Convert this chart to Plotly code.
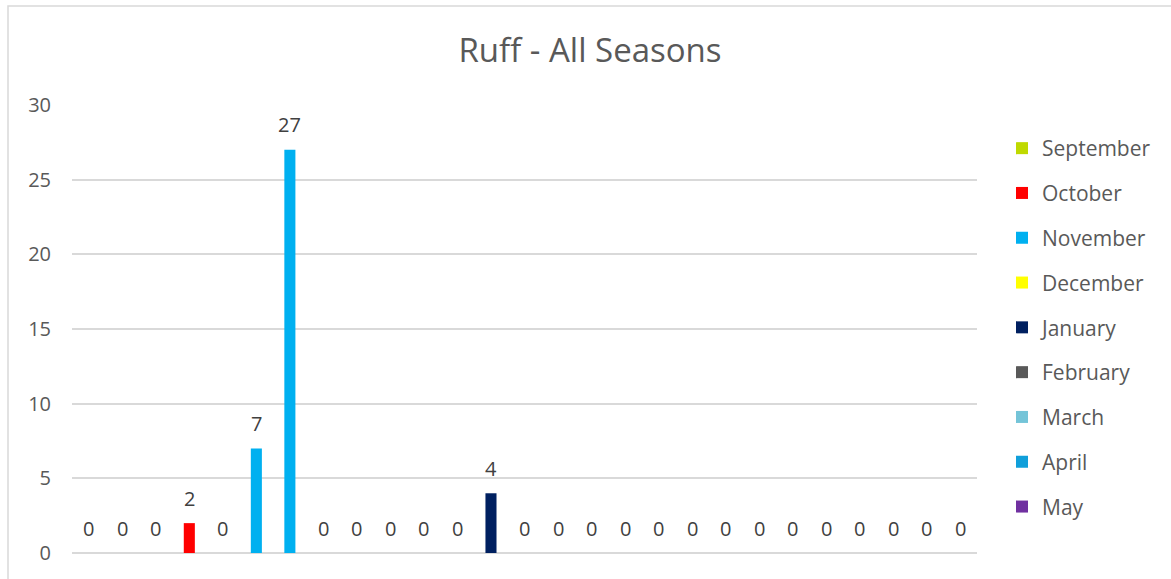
import plotly.graph_objects as go

# Months shown in the legend, with their bar colours
months = ["September", "October", "November", "December", "January",
          "February", "March", "April", "May"]
month_colors = ["#BFD900", "#FF0000", "#00B0F0", "#FFFF00", "#002060",
                "#595959", "#74C4D8", "#109FDA", "#7030A0"]

# Sightings per bar slot (left to right) and the month each slot belongs to
counts = [0, 0, 0, 2, 0, 7, 27, 0, 0, 0, 0, 0, 4, 0,
          0, 0, 0, 0, 0, 0, 0, 0, 0, 0, 0, 0, 0]
slot_month = (["September"] * 3 + ["October"] * 2 + ["November"] * 4 +
              ["December"] * 3 + ["January"] * 3 + ["February"] * 3 +
              ["March"] * 3 + ["April"] * 3 + ["May"] * 3)

FONT = "Open Sans"
W, H = 1171, 579
L, R, T, B = 72, 194, 105, 26
pw, ph = W - L - R, H - T - B

fig = go.Figure()
for i, (m, c) in enumerate(zip(months, month_colors)):
    xs = [k for k, sm in enumerate(slot_month) if sm == m]
    ys = [counts[k] for k in xs]
    fig.add_trace(go.Bar(
        x=xs, y=ys, name=m, marker=dict(color=c, line=dict(width=0)),
        width=0.33, legendgroup=m, showlegend=True,
    ))

# Value labels above every slot
for k, v in enumerate(counts):
    fig.add_annotation(x=k, y=v, text=str(v), showarrow=False,
                       yanchor="middle", yshift=25,
                       font=dict(family=FONT, size=20, color="#404040"))

# Outer chart border
fig.add_shape(type="rect", xref="paper", yref="paper",
              x0=(8 - L) / pw, x1=(W + 10 - L) / pw,
              y0=-(B + 20) / ph, y1=(H - B - 6) / ph,
              line=dict(color="#D9D9D9", width=1.5), fillcolor="rgba(0,0,0,0)",
              layer="below")

fig.update_layout(
    width=W, height=H,
    margin=dict(l=L, r=R, t=T, b=B),
    paper_bgcolor="white", plot_bgcolor="white",
    barmode="overlay",
    title=dict(text="Ruff - All Seasons", x=590 / W, xanchor="center",
               xref="container", y=1 - 50 / H, yanchor="middle",
               font=dict(family=FONT, size=33, color="#595959")),
    xaxis=dict(range=[-0.5, 26.5], showticklabels=False, showgrid=False,
               zeroline=False, showline=False, fixedrange=True),
    yaxis=dict(range=[0, 30], dtick=5, showgrid=True, gridcolor="#D9D9D9",
               gridwidth=1.5, zeroline=True, zerolinecolor="#D9D9D9",
               zerolinewidth=1.5, showline=False, ticklabelstandoff=20,
               tickfont=dict(family=FONT, size=20, color="#595959")),
    legend=dict(x=(1002 - L) / pw, xanchor="left",
                y=(H - B - 128) / ph, yanchor="top",
                font=dict(family=FONT, size=21, color="#595959"),
                tracegroupgap=14.5, traceorder="grouped",
                bgcolor="rgba(0,0,0,0)"),
    showlegend=True,
)

fig.write_html("out.html")
